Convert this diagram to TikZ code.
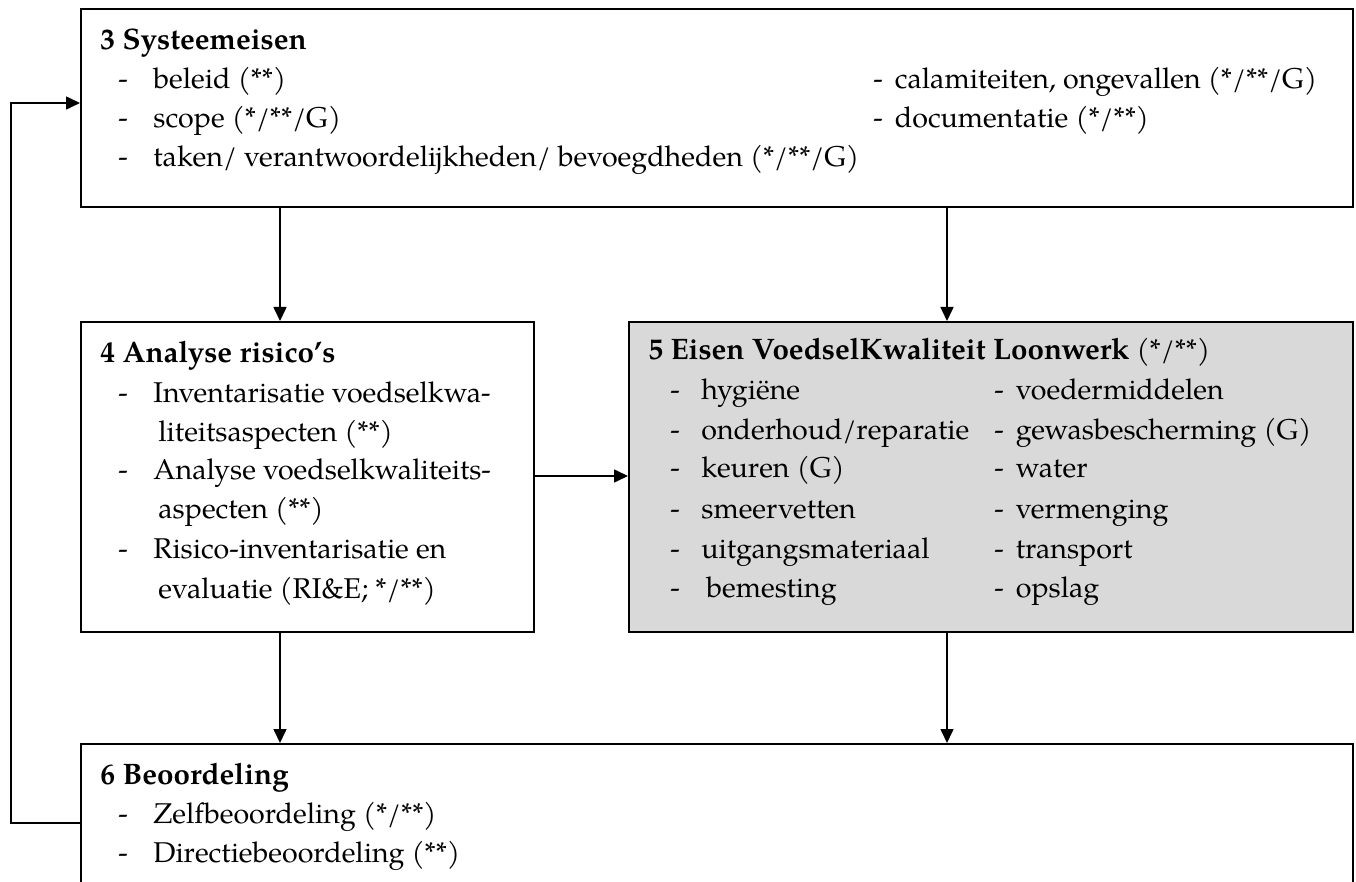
\documentclass[tikz,border=0pt]{standalone}
\usepackage{fontspec}
\setmainfont{TeX Gyre Pagella}
\usetikzlibrary{arrows.meta}
\definecolor{boxgray}{RGB}{217,217,217}
\begin{document}
\begin{tikzpicture}[x=0.5pt,y=-0.5pt,
  box/.style={draw,line width=1pt,rectangle,inner sep=0pt,anchor=north west},
  conn/.style={line width=0.8pt,-{Triangle[length=7pt,width=6.5pt]}},
  txt/.style={anchor=base west,inner sep=0pt,font=\fontsize{14.3}{17}\selectfont},
  ttl/.style={txt,font=\fontsize{14.8}{17}\selectfont\bfseries}]
\clip (0,0) rectangle (1356,882);
\fill[white] (0,0) rectangle (1356,882);
% boxes
\node[box,minimum width=636pt,minimum height=99pt] (b3) at (80,8) {};
\node[box,minimum width=226.5pt,minimum height=155pt] (b4) at (80,321) {};
\node[box,fill=boxgray,minimum width=362pt,minimum height=155pt] (b5) at (628,321) {};
\node[box,minimum width=636pt,minimum height=110pt] (b6) at (80,743) {};
% box 3 text
\node[ttl] (t3) at (100,50) {3 Systeemeisen};
\node[txt] (d3a) at (118,89) {-};  \node[txt] (t3a) at (153,89) {beleid (**)};
\node[txt] (d3b) at (118,128) {-}; \node[txt] (t3b) at (153,128) {scope (*/**/G)};
\node[txt] (d3c) at (118,167) {-}; \node[txt] (t3c) at (153,167) {taken/ verantwoordelijkheden/ bevoegdheden (*/**/G)};
\node[txt] (t3d) at (873,89) {-\hspace{6pt}calamiteiten, ongevallen (*/**/G)};
\node[txt] (t3e) at (873,128) {-\hspace{6pt}documentatie (*/**)};
% box 4 text
\node[ttl] (t4) at (100,363) {4 Analyse risico’s};
\node[txt] (d4a) at (118,402) {-}; \node[txt] (t4a) at (153,402) {Inventarisatie voedselkwa-};
\node[txt] (t4b) at (158,442) {liteitsaspecten (**)};
\node[txt] (d4c) at (118,480) {-}; \node[txt] (t4c) at (153,480) {Analyse voedselkwaliteits-};
\node[txt] (t4d) at (158,518) {aspecten (**)};
\node[txt] (d4e) at (118,558) {-}; \node[txt] (t4e) at (153,558) {Risico-inventarisatie en};
\node[txt] (t4f) at (158,598) {evaluatie (RI\&E; */**)};
% box 5 text
\node[txt] (t5) at (648,360) {{\fontsize{14.8}{17}\selectfont\bfseries 5 Eisen VoedselKwaliteit Loonwerk} (*/**)};
\node[txt] (d5a) at (670,400) {-}; \node[txt] (t5a) at (701,400) {hygiëne};
\node[txt] (d5b) at (670,439) {-}; \node[txt] (t5b) at (701,439) {onderhoud/reparatie};
\node[txt] (d5c) at (670,478) {-}; \node[txt] (t5c) at (701,478) {keuren (G)};
\node[txt] (d5d) at (670,518) {-}; \node[txt] (t5d) at (701,518) {smeervetten};
\node[txt] (d5e) at (670,558) {-}; \node[txt] (t5e) at (701,558) {uitgangsmateriaal};
\node[txt] (d5f) at (670,597) {-}; \node[txt] (t5f) at (706,597) {bemesting};
\node[txt] (t5g) at (994,400) {-\hspace{6pt}voedermiddelen};
\node[txt] (t5h) at (994,439) {-\hspace{6pt}gewasbescherming (G)};
\node[txt] (t5i) at (994,478) {-\hspace{6pt}water};
\node[txt] (t5j) at (994,518) {-\hspace{6pt}vermenging};
\node[txt] (t5k) at (994,558) {-\hspace{6pt}transport};
\node[txt] (t5l) at (994,597) {-\hspace{6pt}opslag};
% box 6 text
\node[ttl] (t6) at (100,784) {6 Beoordeling};
\node[txt] (d6a) at (118,823) {-}; \node[txt] (t6a) at (153,823) {Zelfbeoordeling (*/**)};
\node[txt] (d6b) at (118,862) {-}; \node[txt] (t6b) at (153,862) {Directiebeoordeling (**)};
% connectors
\coordinate (xl) at (280,0);
\coordinate (xr) at (947,0);
\coordinate (ym) at (0,476);
\coordinate (fb) at (11,823);
\coordinate (ft) at (0,103);
\draw[conn] (b3.south -| xl) -- (b4.north -| xl);
\draw[conn] (b3.south -| xr) -- (b5.north -| xr);
\draw[conn] (b4.east |- ym) -- (b5.west |- ym);
\draw[conn] (b4.south -| xl) -- (b6.north -| xl);
\draw[conn] (b5.south -| xr) -- (b6.north -| xr);
\draw[conn] (b6.west |- fb) -- (fb) |- (b3.west |- ft);
\end{tikzpicture}
\end{document}
